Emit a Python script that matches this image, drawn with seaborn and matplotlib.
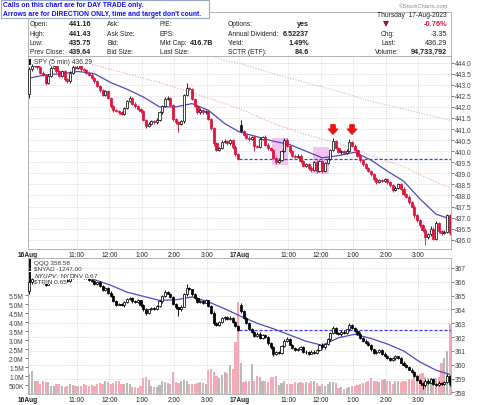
import numpy as np
import pandas as pd
import matplotlib
matplotlib.use("Agg")
import matplotlib.pyplot as plt
from matplotlib.patches import Rectangle, Polygon
import seaborn as sns

# ---------------- data ----------------
# SPY 5-min closes, 16-Aug (bars 0-77) and 17-Aug (bars 78-155)
spy_close = [
    443.70, 443.85, 443.95, 443.80, 443.55, 443.45, 443.10, 443.40, 443.75, 443.85, 443.60, 443.40,
    443.60, 443.25, 443.15, 443.55, 443.80, 443.75, 443.95, 443.70, 443.65, 443.55, 443.45, 443.30,
    443.15, 442.95, 442.75, 442.55, 442.70, 442.40, 442.05, 441.85, 441.80, 441.75, 441.70, 441.95,
    442.25, 442.40, 442.15, 442.05, 441.90, 441.80, 441.40, 441.15, 441.25, 441.35, 441.30, 441.40,
    441.75, 442.05, 442.35, 442.40, 442.10, 441.45, 441.30, 441.25, 441.35, 442.55, 442.85, 442.80,
    442.35, 442.05, 441.75, 441.85, 441.75, 441.80, 441.45, 441.05, 440.35, 440.05, 440.15, 440.40,
    440.45, 440.35, 440.50, 440.20, 439.85, 439.64,
    440.90, 440.75, 440.60, 440.55, 440.65, 440.25, 440.20, 440.55, 440.65, 440.30, 440.15, 440.05,
    439.70, 439.50, 439.60, 440.00, 440.50, 440.25, 440.00, 439.80, 439.75, 439.80, 439.55, 439.35,
    439.40, 439.25, 439.15, 439.50, 439.10, 439.55, 439.10, 439.45, 439.65, 440.05, 440.45, 440.15,
    439.95, 440.00, 439.90, 440.00, 440.40, 440.25, 440.05, 439.80, 439.60, 439.40, 439.25, 439.10,
    438.95, 438.75, 438.60, 438.70, 438.65, 438.75, 438.60, 438.45, 438.25, 438.35, 438.50, 438.30,
    438.05, 437.95, 437.70, 437.50, 437.10, 436.90, 436.65, 436.45, 436.10, 436.25, 436.50, 436.05,
    436.75, 436.40, 436.30, 436.35, 437.10, 436.29,
]
spy_day_open = [442.60, 441.16]
spy_wick_hi = [
    0.10, 0.08, 0.10, 0.05, 0.06, 0.08, 0.05, 0.10, 0.08, 0.05, 0.06, 0.05,
    0.08, 0.05, 0.06, 0.08, 0.10, 0.05, 0.12, 0.05, 0.06, 0.05, 0.05, 0.06,
    0.05, 0.06, 0.05, 0.08, 0.05, 0.06, 0.05, 0.05, 0.06, 0.08, 0.05, 0.06,
    0.05, 0.08, 0.05, 0.06, 0.05, 0.05, 0.06, 0.05, 0.05, 0.06, 0.05, 0.08,
    0.06, 0.05, 0.08, 0.10, 0.06, 0.05, 0.05, 0.08, 0.06, 0.05, 0.25, 0.06,
    0.05, 0.06, 0.05, 0.08, 0.05, 0.06, 0.05, 0.06, 0.05, 0.08, 0.05, 0.10,
    0.08, 0.05, 0.06, 0.05, 0.06, 0.05,
    0.27, 0.05, 0.06, 0.08, 0.05, 0.06, 0.05, 0.10, 0.05, 0.06, 0.05, 0.05,
    0.06, 0.05, 0.08, 0.06, 0.10, 0.10, 0.05, 0.06, 0.05, 0.08, 0.05, 0.06,
    0.05, 0.08, 0.06, 0.05, 0.08, 0.06, 0.05, 0.06, 0.05, 0.06, 0.15, 0.05,
    0.06, 0.05, 0.06, 0.08, 0.15, 0.05, 0.06, 0.05, 0.05, 0.06, 0.05, 0.05,
    0.06, 0.05, 0.08, 0.06, 0.05, 0.06, 0.05, 0.06, 0.05, 0.08, 0.06, 0.05,
    0.06, 0.05, 0.08, 0.06, 0.05, 0.06, 0.05, 0.06, 0.08, 0.05, 0.10, 0.06,
    0.10, 0.06, 0.05, 0.08, 0.05, 0.06,
]
spy_wick_lo = [
    0.20, 0.06, 0.05, 0.08, 0.05, 0.06, 0.10, 0.05, 0.06, 0.05, 0.08, 0.05,
    0.05, 0.08, 0.06, 0.05, 0.05, 0.06, 0.05, 0.08, 0.05, 0.06, 0.05, 0.05,
    0.06, 0.05, 0.08, 0.05, 0.06, 0.05, 0.08, 0.06, 0.05, 0.05, 0.08, 0.05,
    0.06, 0.05, 0.05, 0.08, 0.05, 0.06, 0.05, 0.10, 0.06, 0.05, 0.05, 0.06,
    0.05, 0.06, 0.05, 0.05, 0.08, 0.10, 0.06, 0.40, 0.05, 0.06, 0.05, 0.05,
    0.06, 0.05, 0.08, 0.05, 0.06, 0.05, 0.05, 0.08, 0.10, 0.06, 0.05, 0.05,
    0.05, 0.06, 0.05, 0.08, 0.06, 0.05,
    0.05, 0.06, 0.05, 0.08, 0.05, 0.25, 0.06, 0.05, 0.06, 0.05, 0.08, 0.05,
    0.06, 0.10, 0.05, 0.06, 0.05, 0.06, 0.08, 0.05, 0.06, 0.05, 0.08, 0.06,
    0.05, 0.08, 0.10, 0.06, 0.08, 0.05, 0.10, 0.06, 0.05, 0.06, 0.05, 0.06,
    0.05, 0.06, 0.05, 0.05, 0.06, 0.05, 0.06, 0.05, 0.08, 0.05, 0.06, 0.05,
    0.06, 0.08, 0.10, 0.05, 0.06, 0.05, 0.08, 0.06, 0.10, 0.05, 0.06, 0.05,
    0.06, 0.05, 0.08, 0.06, 0.10, 0.08, 0.06, 0.10, 0.35, 0.08, 0.10, 0.08,
    0.06, 0.10, 0.08, 0.06, 0.06, 0.10,
]

# QQQ 5-min closes (lower panel)
qqq_close = [
    365.95, 366.20, 366.35, 366.45, 366.25, 365.95, 365.80, 366.10, 366.40, 366.55, 366.35, 366.20,
    366.35, 366.15, 366.05, 366.25, 366.50, 366.45, 366.65, 366.45, 366.30, 366.25, 366.10, 366.05,
    365.85, 365.95, 365.70, 365.40, 365.55, 365.20, 365.00, 364.60, 364.35, 364.40, 364.30, 364.55,
    364.75, 364.85, 364.60, 364.55, 364.65, 364.30, 364.00, 363.75, 364.00, 364.10, 364.05, 364.25,
    364.60, 364.95, 365.25, 365.15, 364.90, 364.40, 364.15, 364.00, 364.20, 365.10, 365.55, 365.45,
    365.10, 364.85, 364.55, 364.60, 364.50, 364.65, 364.25, 363.75, 363.00, 362.90, 363.10, 363.35,
    363.45, 363.30, 363.40, 363.10, 362.80, 362.50,
    363.85, 363.40, 363.00, 362.60, 362.40, 362.10, 362.25, 361.95, 362.15, 362.00, 361.55, 361.25,
    360.80, 360.90, 360.85, 361.35, 361.75, 361.85, 361.45, 361.20, 361.05, 361.15, 361.30, 360.95,
    360.90, 360.80, 360.95, 360.85, 361.05, 361.45, 361.25, 361.50, 361.85, 362.30, 362.65, 362.30,
    362.20, 362.40, 362.30, 362.55, 362.90, 362.65, 362.45, 362.25, 361.95, 361.75, 361.60, 361.45,
    361.10, 360.85, 360.95, 361.05, 360.80, 360.65, 360.50, 360.35, 360.45, 360.60, 360.50, 360.15,
    360.00, 359.85, 359.65, 359.50, 359.20, 358.90, 358.70, 358.50, 358.85, 358.70, 358.95, 358.60,
    358.55, 358.70, 358.60, 358.75, 359.20, 358.58,
]
qqq_day_open = [365.30, 364.30]
qqq_wick_hi = [
    0.10, 0.08, 0.10, 0.06, 0.08, 0.06, 0.10, 0.08, 0.06, 0.10, 0.06, 0.08,
    0.06, 0.10, 0.08, 0.06, 0.08, 0.10, 0.12, 0.06, 0.08, 0.06, 0.10, 0.08,
    0.08, 0.06, 0.10, 0.08, 0.06, 0.08, 0.10, 0.06, 0.08, 0.10, 0.06, 0.08,
    0.10, 0.08, 0.06, 0.10, 0.08, 0.06, 0.08, 0.10, 0.06, 0.08, 0.06, 0.10,
    0.08, 0.10, 0.12, 0.08, 0.06, 0.10, 0.08, 0.06, 0.10, 0.12, 0.30, 0.08,
    0.06, 0.10, 0.08, 0.06, 0.10, 0.08, 0.06, 0.08, 0.10, 0.06, 0.08, 0.10,
    0.08, 0.06, 0.10, 0.08, 0.06, 0.08,
    0.20, 0.08, 0.06, 0.10, 0.08, 0.06, 0.10, 0.08, 0.06, 0.08, 0.10, 0.06,
    0.08, 0.10, 0.06, 0.08, 0.10, 0.15, 0.08, 0.06, 0.10, 0.08, 0.06, 0.08,
    0.10, 0.06, 0.08, 0.10, 0.06, 0.08, 0.10, 0.06, 0.08, 0.10, 0.12, 0.08,
    0.06, 0.08, 0.10, 0.06, 0.10, 0.08, 0.06, 0.10, 0.08, 0.06, 0.08, 0.10,
    0.08, 0.06, 0.10, 0.08, 0.06, 0.10, 0.08, 0.06, 0.10, 0.08, 0.06, 0.08,
    0.10, 0.06, 0.08, 0.10, 0.06, 0.08, 0.10, 0.06, 0.15, 0.08, 0.10, 0.06,
    0.08, 0.10, 0.06, 0.08, 0.10, 0.08,
]
qqq_wick_lo = [
    0.15, 0.08, 0.06, 0.10, 0.08, 0.10, 0.08, 0.06, 0.10, 0.08, 0.06, 0.10,
    0.08, 0.06, 0.10, 0.08, 0.06, 0.10, 0.08, 0.06, 0.10, 0.08, 0.06, 0.08,
    0.10, 0.08, 0.06, 0.10, 0.08, 0.06, 0.10, 0.08, 0.10, 0.06, 0.08, 0.10,
    0.08, 0.06, 0.10, 0.08, 0.06, 0.10, 0.08, 0.15, 0.08, 0.06, 0.10, 0.08,
    0.06, 0.10, 0.08, 0.06, 0.10, 0.08, 0.10, 0.50, 0.08, 0.06, 0.10, 0.08,
    0.10, 0.08, 0.06, 0.10, 0.08, 0.06, 0.10, 0.08, 0.15, 0.10, 0.08, 0.06,
    0.08, 0.10, 0.06, 0.08, 0.10, 0.08,
    0.08, 0.10, 0.06, 0.08, 0.10, 0.08, 0.06, 0.10, 0.08, 0.06, 0.10, 0.08,
    0.20, 0.10, 0.08, 0.06, 0.10, 0.08, 0.06, 0.10, 0.08, 0.06, 0.10, 0.08,
    0.10, 0.08, 0.06, 0.10, 0.08, 0.06, 0.10, 0.08, 0.06, 0.10, 0.08, 0.06,
    0.08, 0.10, 0.06, 0.08, 0.10, 0.06, 0.08, 0.10, 0.06, 0.08, 0.10, 0.08,
    0.10, 0.08, 0.06, 0.10, 0.08, 0.06, 0.10, 0.08, 0.06, 0.10, 0.08, 0.06,
    0.08, 0.10, 0.06, 0.08, 0.10, 0.08, 0.06, 0.25, 0.10, 0.08, 0.06, 0.10,
    0.08, 0.06, 0.10, 0.08, 0.06, 0.10,
]

# volume per bar, millions
volume_m = [
    1.10, 1.30, 0.75, 0.75, 0.55, 0.70, 0.65, 0.65, 0.45, 0.45, 0.55, 0.55,
    0.45, 0.40, 0.45, 0.55, 0.50, 0.45, 0.45, 0.45, 0.55, 0.50, 0.45, 0.50,
    0.45, 0.55, 0.60, 0.55, 0.70, 0.65, 0.55, 0.60, 0.75, 0.70, 0.55, 0.55,
    0.60, 0.55, 0.40, 0.40, 0.35, 0.45, 0.90, 0.95, 0.80, 0.45, 0.40, 0.40,
    0.50, 0.70, 0.65, 0.60, 0.55, 1.20, 0.65, 0.60, 0.70, 0.80, 0.75, 0.55,
    0.55, 0.55, 0.60, 0.65, 0.60, 0.55, 1.35, 1.40, 1.20, 1.00, 0.90, 1.05,
    1.25, 1.15, 1.60, 1.40, 2.90, 5.10,
    1.70, 0.65, 0.70, 0.75, 1.65, 0.75, 1.00, 0.95, 0.75, 0.70, 0.65, 0.95,
    0.95, 1.00, 0.50, 0.60, 0.70, 0.55, 0.55, 0.55, 0.65, 0.60, 0.65, 0.60,
    0.65, 0.60, 0.70, 0.70, 0.60, 0.45, 0.55, 0.45, 0.55, 0.65, 0.65, 0.60,
    0.35, 0.40, 0.30, 0.35, 0.40, 0.45, 0.45, 0.50, 0.55, 0.60, 0.65, 0.70,
    0.90, 0.75, 0.70, 0.65, 0.80, 0.85, 0.75, 0.70, 0.55, 0.70, 0.75, 0.65,
    0.75, 0.70, 0.85, 0.85, 1.00, 1.05, 1.10, 1.15, 0.95, 0.90, 0.90, 0.85,
    0.90, 0.95, 1.75, 2.00, 2.40, 3.90,
]

# overlay lines read at sample bars
spy_ma_bars = [0, 6, 12, 18, 24, 30, 36, 42, 48, 54, 60, 66, 72, 77, 78, 84, 90, 96, 102,
               108, 114, 120, 126, 132, 138, 144, 150, 155]
spy_ma_vals = [443.30, 443.45, 443.50, 443.60, 443.50, 443.10, 442.80, 442.45, 442.00, 442.00,
               442.15, 441.85, 441.25, 440.90, 440.85, 440.65, 440.45, 440.30, 440.00, 439.70,
               439.80, 439.95, 439.60, 439.10, 438.65, 437.85, 437.15, 436.95]
spy_ma50_bars = [0, 12, 24, 36, 48, 60, 72, 78, 90, 102, 114, 126, 138, 150, 155]
spy_ma50_vals = [444.50, 444.15, 443.90, 443.50, 443.10, 442.65, 442.15, 441.90, 441.25, 440.75,
                 440.35, 439.80, 439.30, 438.60, 438.35]
spy_ma200_bars = [60, 66, 72, 78, 90, 102, 114, 126, 138, 150, 155]
spy_ma200_vals = [444.65, 444.35, 444.10, 443.95, 443.50, 443.10, 442.70, 442.25, 441.90,
                  441.55, 441.40]
qqq_ma_bars = [19, 24, 30, 36, 42, 48, 54, 60, 66, 72, 78, 84, 90, 96, 102, 108, 114, 120,
               126, 132, 138, 144, 150, 155]
qqq_ma_vals = [366.35, 366.15, 365.75, 365.25, 364.95, 364.65, 364.70, 364.90, 364.55, 364.05,
               363.50, 363.00, 362.60, 362.15, 361.70, 361.40, 361.95, 362.20, 361.90, 361.50,
               361.00, 360.20, 359.60, 359.30]

spy_prev_close = 439.64
qqq_prev_close = 362.50
# highlight boxes: first bar, last bar, low, high
highlight_boxes = [(90, 95, 439.37, 440.60), (105, 110, 438.96, 440.20)]
arrow_bars = [112, 119]
arrow_tip = 440.77

time_tick_pos = [-0.5, 17.5, 29.5, 41.5, 53.5, 65.5, 77.5, 95.5, 107.5, 119.5, 131.5, 143.5]
time_tick_labels = ["16Aug", "11:00", "12:00", "1:00", "2:00", "3:00",
                    "17Aug", "11:00", "12:00", "1:00", "2:00", "3:00"]

col1_labels = ["Open:", "High:", "Low:", "Prev Close:"]
col1_values = ["441.16", "441.43", "435.75", "439.64"]
col2_labels = ["Ask:", "Ask Size:", "Bid:", "Bid Size:"]
col3_labels = ["P/E:", "EPS:", "Mkt Cap:", "Last Size:"]
col3_values = ["", "", "416.7B", ""]
col4_labels = ["Options:", "Annual Dividend:", "Yield:", "SCTR (ETF):"]
col4_values = ["yes", "6.52237", "1.49%", "84.6"]
col5_labels = ["", "Chg:", "Last:", "Volume:"]
col5_values = ["-0.76%", "-3.35", "436.29", "94,733,792"]

# ---------------- figure ----------------
W, H = 480, 406
RED = "#dc143c"
FS = 4.8

sns.set_theme(style="white")
plt.rcParams["font.family"] = ["Liberation Sans", "DejaVu Sans"]

fig = plt.figure(figsize=(W / 100, H / 100), dpi=100)


def fbox(x0, y0, x1, y1):
    return [x0 / W, 1 - y1 / H, (x1 - x0) / W, (y1 - y0) / H]


def ftext(x, y, s, **kw):
    kw.setdefault("fontsize", FS)
    kw.setdefault("color", "#222222")
    fig.text(x / W, 1 - y / H, s, va="center", **kw)


ax = fig.add_axes(fbox(28, 57, 451, 250))
ax_low = fig.add_axes(fbox(28, 259, 451, 395))
ax_vol = ax_low.twinx()

n = len(spy_close)
bars = np.arange(n)


def candle_parts(close, day_open, wick_hi, wick_lo):
    c = np.asarray(close, float)
    o = np.r_[day_open[0], c[:-1]]
    prev = o.copy()
    o[78] = day_open[1]
    hi = np.maximum(o, c) + np.asarray(wick_hi)
    lo = np.minimum(o, c) - np.asarray(wick_lo)
    return o, c, prev, hi, lo


def draw_candles(axis, parts, up_col, down_col, min_h):
    o, c, prev, hi, lo = parts
    col = [down_col if c[i] < prev[i] else up_col for i in range(len(c))]
    face = [col[i] if c[i] < o[i] else "white" for i in range(len(c))]
    axis.vlines(bars, lo, hi, colors=col, linewidth=0.65, zorder=3)
    axis.bar(bars, np.maximum(np.abs(c - o), min_h), bottom=np.minimum(o, c), width=0.78,
             color=face, edgecolor=col, linewidth=0.55, zorder=4)


spy = candle_parts(spy_close, spy_day_open, spy_wick_hi, spy_wick_lo)
qqq = candle_parts(qqq_close, qqq_day_open, qqq_wick_hi, qqq_wick_lo)

# ---- upper panel: SPY ----
for b0, b1, lo, hi in highlight_boxes:
    ax.add_patch(Rectangle((b0 - 0.5, lo), b1 - b0 + 1, hi - lo, facecolor="#f3c3f0",
                           edgecolor="none", zorder=1))
sns.lineplot(x=spy_ma200_bars, y=spy_ma200_vals, ax=ax, color="#a9c9c9", linewidth=0.8,
             linestyle=(0, (1, 1.5)), zorder=2)
sns.lineplot(x=spy_ma50_bars, y=spy_ma50_vals, ax=ax, color="#eaa5b5", linewidth=0.8,
             linestyle=(0, (1, 1.5)), zorder=2)
ax.plot([77.5, n - 0.5], [spy_prev_close, spy_prev_close], color="#3b3bff",
        linestyle=(0, (2.5, 1.5)), linewidth=0.9, zorder=2)
sns.lineplot(x=spy_ma_bars, y=spy_ma_vals, ax=ax, color="#4b4bc0", linewidth=0.9, zorder=2.5)
draw_candles(ax, spy, "#111111", RED, 0.015)
for b in arrow_bars:
    ax.annotate("", xy=(b, arrow_tip), xytext=(b, arrow_tip + 0.42),
                arrowprops=dict(arrowstyle="simple,head_length=0.3,head_width=0.55,tail_width=0.25",
                                color="#ee1111", shrinkA=0, shrinkB=0), zorder=5)
ax.set_ylim(435.58, 444.30)
ax.set_yticks(np.arange(436.0, 444.01, 0.5))
ax.set_yticklabels([f"{v:.1f}" for v in np.arange(436.0, 444.01, 0.5)])

# ---- lower panel: QQQ + volume ----
vol_dir = ["down" if spy[1][i] < spy[2][i] else "up" for i in range(n)]
sns.barplot(x=bars, y=volume_m, hue=vol_dir, palette={"up": "#b9b9b9", "down": "#f3a9b6"},
            dodge=False, width=0.8, saturation=1, linewidth=0, legend=False, ax=ax_vol)
ax_vol.set_ylim(0, 7.56)
vol_ticks = np.arange(0.5, 5.51, 0.5)
ax_vol.set_yticks(vol_ticks)
ax_vol.set_yticklabels(["500K"] + [f"{v:.1f}M" for v in vol_ticks[1:]])
ax_vol.yaxis.tick_left()
ax_vol.set_xlabel("")
ax_vol.set_ylabel("")
for s in ax_vol.spines.values():
    s.set_visible(False)

ax_low.set_zorder(ax_vol.get_zorder() + 1)
ax_low.patch.set_visible(False)
ax_low.plot([77.5, n - 0.5], [qqq_prev_close, qqq_prev_close], color="#3b3bff",
            linestyle=(0, (2.5, 1.5)), linewidth=0.9, zorder=2)
sns.lineplot(x=qqq_ma_bars, y=qqq_ma_vals, ax=ax_low, color="#4b4bc0", linewidth=0.9, zorder=2.5)
draw_candles(ax_low, qqq, "#000000", "#000000", 0.03)
ax_low.set_ylim(357.88, 367.72)
ax_low.set_yticks(range(358, 368))
ax_low.set_yticklabels([str(v) for v in range(358, 368)])

# ---- shared axis styling ----
for a in (ax, ax_low):
    a.set_xlim(-0.5, n - 0.5)
    a.yaxis.tick_right()
    a.set_xticks(time_tick_pos)
    a.set_xticklabels(time_tick_labels)
    for lab in a.get_xticklabels():
        if "Aug" in lab.get_text():
            lab.set_fontweight("bold")
    a.tick_params(axis="x", length=0, pad=1.2, labelsize=FS, colors="#222222")
    a.tick_params(axis="y", length=2, width=0.5, pad=1, labelsize=FS, colors="#444444")
    a.grid(True, color="#d2d2d2", linestyle=(0, (1.5, 1.5)), linewidth=0.5)
    a.set_axisbelow(True)
    a.set_xlabel("")
    a.set_ylabel("")
    for s in a.spines.values():
        s.set_color("#a8a8a8")
        s.set_linewidth(0.6)
ax_vol.tick_params(axis="y", length=2, width=0.5, pad=1, labelsize=FS, colors="#444444")

# ---- header / quote table ----
fig.add_artist(Rectangle((27.5 / W, 1 - 57 / H), 423 / W, 44.3 / H, transform=fig.transFigure,
                         facecolor="white", edgecolor="#a8a8a8", linewidth=0.6, zorder=0))
row_y = [25, 34, 43.3, 52.3]
for i, y in enumerate(row_y):
    ftext(30, y, col1_labels[i])
    ftext(91, y, col1_values[i], ha="right", fontweight="bold", fontsize=5.2)
    ftext(107, y, col2_labels[i])
    ftext(160, y, col3_labels[i])
    ftext(213, y, col3_values[i], ha="right", fontweight="bold", fontsize=5.2)
    ftext(228, y, col4_labels[i])
    ftext(309, y, col4_values[i], ha="right", fontweight="bold", fontsize=5.2)
    if col5_labels[i]:
        ftext(447, y, col5_values[i], ha="right", fontsize=5.2,
              fontweight="bold" if i == 3 else "normal")
        ftext(381 if i < 3 else 375, y, col5_labels[i])
ftext(447, row_y[0], col5_values[0], ha="right", fontsize=5.4, fontweight="bold", color=RED)
fig.add_artist(Polygon([(383 / W, 1 - 22 / H), (389 / W, 1 - 22 / H), (386 / W, 1 - 28 / H)],
                       closed=True, transform=fig.transFigure, facecolor="#a0103a",
                       edgecolor="none"))
ftext(447, 15.6, "Thursday  17-Aug-2023", ha="right")
ftext(448, 6.5, "\u00a9StockCharts.com", ha="right", fontsize=4.2, color="#8a8a8a")

# callout box
fig.add_artist(Rectangle((0.5 / W, 1 - 18.5 / H), 208.5 / W, 18 / H, transform=fig.transFigure,
                         facecolor="white", edgecolor="#9aa6cc", linewidth=0.8))
ftext(3, 5.5, "Calls on this chart are for DAY TRADE only.", color="#1010ee",
      fontweight="bold", fontsize=4.9)
ftext(3, 14, "Arrows are for DIRECTION ONLY, time and target don't count.", color="#1010ee",
      fontweight="bold", fontsize=4.9)

# ---- panel legends ----
def icon_candle(x, y):
    fig.add_artist(Rectangle(((x - 1) / W, 1 - (y + 3) / H), 2.2 / W, 6 / H,
                             transform=fig.transFigure, facecolor="#111111", edgecolor="none"))


icon_candle(30, 62.5)
fig.text(34 / W, 1 - 63 / H, "SPY (5 min) 436.29", va="center", fontsize=FS, color="#333333",
         bbox=dict(facecolor="white", edgecolor="none", pad=0.2))

low_legend = ["QQQ 358.58", "$NYAD -1247.00", "$NYUPV:$NYDNV 0.67", "$TRIN 0.65"]
for i, txt in enumerate(low_legend):
    y = 263 + i * 6.4
    icon_candle(30, y)
    fig.text(34 / W, 1 - y / H, txt, va="center", fontsize=4.6, color="#333333",
             bbox=dict(facecolor="white", edgecolor="none", pad=0.2))

fig.savefig("out.png", dpi=100)
